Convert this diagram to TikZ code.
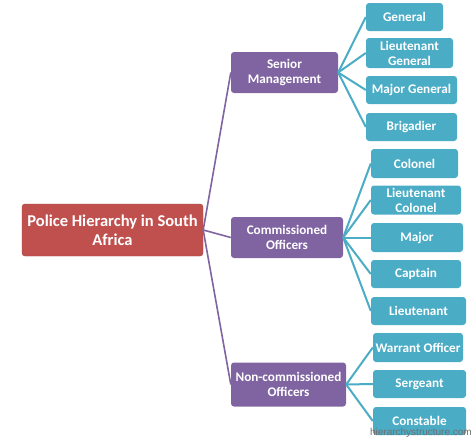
\documentclass[tikz,border=0pt]{standalone}
\usepackage{fontspec}
\setmainfont{Carlito}
\newfontfamily\wmfont{Liberation Sans}
\definecolor{rootred}{HTML}{C0504D}
\definecolor{midpurple}{HTML}{8064A2}
\definecolor{leafteal}{HTML}{4BACC6}
\definecolor{wmgray}{HTML}{707070}
\tikzset{
  basebox/.style={rounded corners=3pt, inner sep=0pt, align=center, text=white, font=\bfseries},
  rootbox/.style={basebox, fill=rootred, draw=rootred!85!black, line width=0.4pt, font=\fontsize{16.5}{19}\selectfont\bfseries},
  midbox/.style={basebox, fill=midpurple, font=\fontsize{13.2}{15}\selectfont\bfseries},
  leafbox/.style={basebox, fill=leafteal, font=\fontsize{13.2}{15}\selectfont\bfseries},
  rootlink/.style={draw=midpurple, line width=1.6pt},
  leaflink/.style={draw=leafteal, line width=2pt},
}
\begin{document}
\begin{tikzpicture}[x=1pt,y=-1pt]
\useasboundingbox (0,0) rectangle (474,439);
% root
\node[rootbox, minimum width=181pt, minimum height=52pt] (root) at (112.5,230) {Police Hierarchy in South\\Africa};
% middle
\node[midbox, minimum width=107pt, minimum height=41pt] (senior) at (284.5,72.5) {Senior\\Management};
\node[midbox, minimum width=112pt, minimum height=41pt] (comm) at (287,237.5) {Commissioned\\Officers};
\node[midbox, minimum width=115pt, minimum height=44pt] (noncomm) at (288.5,384.5) {Non-commissioned\\Officers};
% leaves
\node[leafbox, minimum width=77pt, minimum height=28pt] (general) at (404.5,17) {General};
\node[leafbox, minimum width=87pt, minimum height=30pt] (ltgen) at (409.5,53) {Lieutenant\\General};
\node[leafbox, minimum width=91pt, minimum height=28pt] (majgen) at (411.5,90) {Major General};
\node[leafbox, minimum width=91pt, minimum height=28pt] (brig) at (411.5,127) {Brigadier};
\node[leafbox, minimum width=87pt, minimum height=29pt] (colonel) at (414.5,163.5) {Colonel};
\node[leafbox, minimum width=90pt, minimum height=29pt] (ltcol) at (416,200) {Lieutenant\\Colonel};
\node[leafbox, minimum width=92pt, minimum height=29pt] (major) at (417,237.5) {Major};
\node[leafbox, minimum width=90pt, minimum height=28pt] (captain) at (416,274) {Captain};
\node[leafbox, minimum width=95pt, minimum height=28pt] (lieut) at (418.5,311) {Lieutenant};
\node[leafbox, minimum width=90pt, minimum height=29pt] (warrant) at (418,347.5) {Warrant Officer};
\node[leafbox, minimum width=93pt, minimum height=28pt] (sergeant) at (419.5,384) {Sergeant};
\node[leafbox, minimum width=93pt, minimum height=28pt] (constable) at (419.5,421) {Constable};
% connectors root -> middle
\draw[rootlink] (root.east) -- (senior.west);
\draw[rootlink] (root.east) -- (comm.west);
\draw[rootlink] (root.east) -- (noncomm.west);
% connectors middle -> leaves
\foreach \t in {general,ltgen,majgen,brig} \draw[leaflink] (senior.east) -- (\t.west);
\foreach \t in {colonel,ltcol,major,captain,lieut} \draw[leaflink] (comm.east) -- (\t.west);
\foreach \t in {warrant,sergeant,constable} \draw[leaflink] (noncomm.east) -- (\t.west);
% watermark
\node[anchor=east, inner sep=0pt, text=wmgray, font=\wmfont\fontsize{10}{12}\selectfont] (wm) at (472,433) {hierarchystructure.com};
\end{tikzpicture}
\end{document}
